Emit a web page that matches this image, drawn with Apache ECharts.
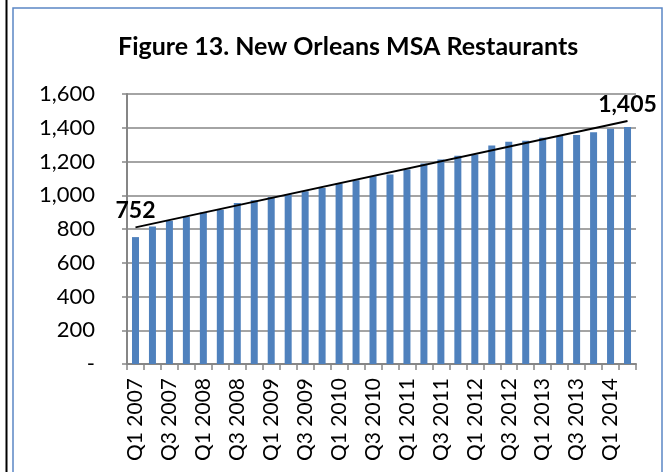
<!DOCTYPE html>
<html>
<head>
<meta charset="utf-8">
<script src="https://cdn.jsdelivr.net/npm/echarts@6/dist/echarts.min.js"></script>
<style>
html,body{margin:0;padding:0;background:#fff;}
#c{width:665px;height:472px;}
</style>
</head>
<body>
<div id="c"></div>
<script>
var titleText = 'Figure 13. New Orleans MSA Restaurants';
var categories = ['Q1 2007','Q2 2007','Q3 2007','Q4 2007','Q1 2008','Q2 2008','Q3 2008','Q4 2008',
  'Q1 2009','Q2 2009','Q3 2009','Q4 2009','Q1 2010','Q2 2010','Q3 2010','Q4 2010',
  'Q1 2011','Q2 2011','Q3 2011','Q4 2011','Q1 2012','Q2 2012','Q3 2012','Q4 2012',
  'Q1 2013','Q2 2013','Q3 2013','Q4 2013','Q1 2014','Q2 2014'];
var restaurants = [752, 815, 849, 871, 898, 914, 954, 970, 990, 1004, 1023, 1043, 1069, 1089, 1113,
  1123, 1152, 1188, 1212, 1234, 1242, 1295, 1317, 1323, 1341, 1351, 1357, 1374, 1394, 1405];
// linear trendline endpoints (first and last category)
var trendStart = 809;
var trendEnd = 1440;
var yTicks = [0, 200, 400, 600, 800, 1000, 1200, 1400, 1600];

var trendData = categories.map(function(c, i){
  if (i === 0) return trendStart;
  if (i === categories.length - 1) return trendEnd;
  return null;
});

var chart = echarts.init(document.getElementById('c'), null, {renderer:'canvas'});
var FONT = 'Lato';
chart.setOption({
  animation: false,
  backgroundColor: '#ffffff',
  graphic: [
    {type:'rect', shape:{x:13, y:8, width:649, height:480}, style:{fill:'none', stroke:'#5b87c5', lineWidth:1.5}, z:-1},
    {type:'line', shape:{x1:6.5, y1:0, x2:6.5, y2:472}, style:{stroke:'#000', lineWidth:2}}
  ],
  title: {
    text: titleText,
    left: 113,
    top: 29,
    textStyle: {fontFamily: FONT, fontWeight: 'bold', fontSize: 25, color: '#000'}
  },
  grid: {left:127, right:29, top:94, bottom:108, containLabel:false},
  xAxis: {
    type: 'category',
    data: categories,
    boundaryGap: true,
    axisLine: {show:true, lineStyle:{color:'#868686', width:2}},
    axisTick: {show:true, interval:0, length:6, lineStyle:{color:'#868686', width:1.5}},
    axisLabel: {interval:1, rotate:90, margin:14, fontFamily:FONT, fontSize:21, color:'#000'},
    splitLine: {show:false}
  },
  yAxis: {
    type: 'value',
    min: yTicks[0],
    max: yTicks[yTicks.length-1],
    interval: 200,
    axisLine: {show:true, lineStyle:{color:'#868686', width:2}},
    axisTick: {show:true, length:5, lineStyle:{color:'#868686', width:1.5}},
    axisLabel: {margin:32, fontFamily:FONT, fontSize:22, color:'#000',
      formatter: function(v){ return v === 0 ? '-' : v.toLocaleString('en-US'); }},
    splitLine: {show:true, lineStyle:{color:'#868686', width:1.5}}
  },
  series: [
    {
      type: 'bar',
      data: restaurants,
      barWidth: 7,
      itemStyle: {color:'#4f81bd'},
      z: 2
    },
    {
      type: 'line',
      data: trendData,
      connectNulls: true,
      symbol: 'circle',
      symbolSize: 0.1,
      showSymbol: true,
      itemStyle: {color:'#000'},
      lineStyle: {color:'#000', width:1.8},
      z: 3,
      label: {
        show: true,
        position: 'top',
        distance: 5,
        fontFamily: FONT, fontWeight:'bold', fontSize:23, color:'#000',
        formatter: function(p){ return restaurants[p.dataIndex].toLocaleString('en-US'); }
      },
      labelLayout: {hideOverlap:false}
    }
  ]
});
</script>
</body>
</html>
